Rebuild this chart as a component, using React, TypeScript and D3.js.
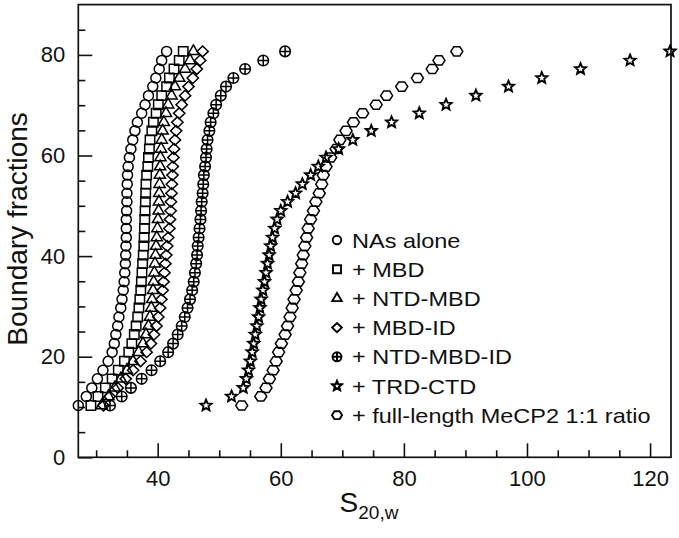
import { useEffect, useRef } from "react";
import * as d3 from "d3";

// boundary fractions (%) shared by every run
const fractions = [
  10.3, 12.1, 13.8, 15.6, 17.3, 19.1, 20.9, 22.6, 24.4, 26.1, 27.9, 29.7, 31.4,
  33.2, 34.9, 36.7, 38.5, 40.2, 42.0, 43.7, 45.5, 47.3, 49.0, 50.8, 52.5, 54.3,
  56.1, 57.8, 59.6, 61.3, 63.1, 64.9, 66.6, 68.4, 70.1, 71.9, 73.7, 75.4, 77.2,
  78.9, 80.7,
];

// s20,w for each boundary fraction
const nasAlone = [
  27.1, 28.4, 29.3, 30.2, 31.1, 31.95, 32.6, 32.95, 33.2, 33.5, 33.7, 34.0, 34.2,
  34.4, 34.55, 34.65, 34.75, 34.8, 34.85, 34.9, 34.9, 34.9, 34.95, 35.0, 35.0,
  35.05, 35.1, 35.2, 35.4, 35.65, 35.95, 36.3, 36.7, 37.4, 37.95, 38.5, 39.2,
  39.7, 40.25, 40.65, 41.45,
];
const mbd = [
  29.15, 30.3, 31.5, 32.6, 33.6, 34.6, 35.3, 35.8, 36.2, 36.5, 36.75, 36.95,
  37.1, 37.25, 37.35, 37.45, 37.55, 37.65, 37.75, 37.8, 37.85, 37.9, 37.95, 38.0,
  38.05, 38.1, 38.2, 38.4, 38.5, 38.65, 38.75, 39.05, 39.3, 39.75, 40.1, 40.65,
  41.45, 41.9, 42.65, 43.5, 44.15,
];
const ntdMbd = [
  30.9, 32.0, 33.0, 34.0, 35.0, 36.0, 36.9, 37.6, 38.1, 38.5, 38.75, 38.95, 39.1,
  39.25, 39.35, 39.45, 39.55, 39.65, 39.75, 39.85, 39.95, 40.05, 40.15, 40.2,
  40.25, 40.3, 40.35, 40.4, 40.45, 40.55, 40.65, 40.8, 41.0, 41.35, 41.7, 42.25,
  42.8, 43.5, 44.45, 45.25, 45.8,
];
const mbdId = [
  31.2, 32.2, 33.5, 34.8, 36.0, 37.2, 38.2, 38.9, 39.4, 39.8, 40.1, 40.4, 40.6,
  40.8, 40.95, 41.1, 41.25, 41.4, 41.55, 41.7, 41.9, 42.0, 42.1, 42.15, 42.25,
  42.3, 42.4, 42.45, 42.55, 42.65, 42.8, 43.0, 43.2, 43.5, 43.9, 44.45, 45.0,
  45.7, 46.35, 46.9, 47.3,
];
const ntdMbdId = [
  32.25, 34.15, 35.65, 37.4, 39.0, 40.4, 41.7, 42.5, 43.25, 43.9, 44.4, 44.85,
  45.25, 45.6, 45.85, 46.05, 46.25, 46.4, 46.5, 46.65, 46.8, 46.95, 47.05, 47.15,
  47.3, 47.4, 47.5, 47.7, 47.85, 47.95, 48.1, 48.4, 48.6, 49.05, 49.5, 50.25,
  51.1, 52.3, 54.2, 57.15, 60.7,
];
const trdCtd = [
  47.85, 52.0, 53.9, 54.4, 54.75, 55.05, 55.35, 55.6, 55.85, 56.1, 56.4, 56.6,
  56.8, 57.1, 57.35, 57.6, 57.85, 58.1, 58.35, 58.65, 59.0, 59.4, 60.0, 61.1,
  62.4, 63.5, 64.85, 66.1, 67.35, 69.4, 71.7, 74.7, 78.0, 82.5, 86.85, 91.7,
  97.0, 102.4, 108.7, 116.75, 123.25,
];
const fullLength = [
  53.65, 56.75, 57.6, 58.15, 58.75, 59.25, 59.65, 60.1, 60.7, 61.1, 61.5, 61.85,
  62.15, 62.5, 62.85, 63.1, 63.4, 63.65, 63.9, 64.2, 64.45, 64.85, 65.3, 65.7,
  66.25, 66.65, 66.9, 67.35, 68.1, 69.0, 69.6, 70.6, 71.8, 73.3, 75.5, 77.2,
  79.65, 82.2, 84.6, 85.7, 88.6,
];

const seriesNames = [
  "NAs alone",
  "+ MBD",
  "+ NTD-MBD",
  "+ MBD-ID",
  "+ NTD-MBD-ID",
  "+ TRD-CTD",
  "+ full-length MeCP2 1:1 ratio",
];
const seriesShapes = ["circle", "square", "triangle", "diamond", "crossed", "star", "hexagon"];
const seriesValues = [nasAlone, mbd, ntdMbd, mbdId, ntdMbdId, trdCtd, fullLength];

const xMajor = [40, 60, 80, 100, 120];
const xMinor = [30, 35, 45, 50, 55, 65, 70, 75, 85, 90, 95, 105, 110, 115];
const yMajor = [0, 20, 40, 60, 80];
const yMinor = [5, 10, 15, 25, 30, 35, 45, 50, 55, 65, 70, 75, 85];

const FONT = "'Liberation Sans', Arial, Helvetica, sans-serif";

function markerPath(shape: string, k: number): string {
  const circ = (r: number) =>
    `M${r},0A${r},${r} 0 1,1 ${-r},0A${r},${r} 0 1,1 ${r},0Z`;
  if (shape === "circle") return circ(5 * k);
  if (shape === "square") {
    const s = 4.7 * k;
    return `M${-s},${-s}H${s}V${s}H${-s}Z`;
  }
  if (shape === "triangle") {
    const a = 11.2 * k;
    const h = (a * Math.sqrt(3)) / 2;
    return `M0,${(-2 * h) / 3}L${a / 2},${h / 3}L${-a / 2},${h / 3}Z`;
  }
  if (shape === "diamond") {
    const r = 5.4 * k;
    return `M0,${-r}L${r * 1.05},0L0,${r}L${-r * 1.05},0Z`;
  }
  if (shape === "crossed") {
    const r = 5.3 * k;
    return `${circ(r)}M${-r},0H${r}M0,${-r}V${r}`;
  }
  if (shape === "star") {
    const R = 5.8 * k;
    const ri = R * 0.45;
    const pts: string[] = [];
    for (let i = 0; i < 10; i++) {
      const rad = i % 2 === 0 ? R : ri;
      const ang = -Math.PI / 2 + (i * Math.PI) / 5;
      pts.push(`${(rad * Math.cos(ang)).toFixed(2)},${(rad * Math.sin(ang)).toFixed(2)}`);
    }
    return `M${pts.join("L")}Z`;
  }
  // hexagon, pointy left/right
  const R = 6 * k;
  const pts: string[] = [];
  for (let i = 0; i < 6; i++) {
    const ang = (i * Math.PI) / 3;
    pts.push(`${(R * Math.cos(ang)).toFixed(2)},${(R * 0.88 * Math.sin(ang)).toFixed(2)}`);
  }
  return `M${pts.join("L")}Z`;
}

const W = 679;
const H = 538;

export default function App() {
  const svgRef = useRef<SVGSVGElement | null>(null);

  useEffect(() => {
    const svg = svgRef.current;
    if (!svg) return;
    svg.innerHTML = "";

    const left = 78.3;
    const right = 671;
    const top = 4.6;
    const bottom = 457.3;

    const x = d3.scaleLinear().domain([27.1, 123.4]).range([left, right]);
    const y = d3.scaleLinear().domain([0, 90]).range([bottom, top]);

    const root = d3.select(svg).attr("width", W).attr("height", H);

    // minor ticks
    root
      .append("g")
      .attr("transform", `translate(0,${bottom})`)
      .call(d3.axisBottom(x).tickValues(xMinor).tickSizeInner(-7).tickSizeOuter(0).tickFormat(() => ""))
      .call((g) => g.select(".domain").remove());
    root
      .append("g")
      .attr("transform", `translate(${left},0)`)
      .call(d3.axisLeft(y).tickValues(yMinor).tickSizeInner(-7).tickSizeOuter(0).tickFormat(() => ""))
      .call((g) => g.select(".domain").remove());

    // major ticks + labels
    const xAxis = root
      .append("g")
      .attr("transform", `translate(0,${bottom})`)
      .call(
        d3.axisBottom(x).tickValues(xMajor).tickSizeInner(-14).tickSizeOuter(0).tickPadding(13).tickFormat(d3.format("d"))
      );
    xAxis.select(".domain").remove();
    const yAxis = root
      .append("g")
      .attr("transform", `translate(${left},0)`)
      .call(
        d3.axisLeft(y).tickValues(yMajor).tickSizeInner(-14).tickSizeOuter(0).tickPadding(13).tickFormat(d3.format("d"))
      );
    yAxis.select(".domain").remove();

    root.selectAll(".tick line").attr("stroke", "#111").attr("stroke-width", 1.6);
    root
      .selectAll(".tick text")
      .attr("font-family", FONT)
      .attr("font-size", 22)
      .attr("fill", "#111");

    // frame
    root
      .append("rect")
      .attr("x", left)
      .attr("y", top)
      .attr("width", right - left)
      .attr("height", bottom - top)
      .attr("fill", "none")
      .attr("stroke", "#111")
      .attr("stroke-width", 1.7);

    // data markers
    seriesValues.forEach((vals, si) => {
      const pts = vals.map((v, i) => ({ sx: v, bf: fractions[i] }));
      root
        .append("g")
        .selectAll("path")
        .data(pts)
        .join("path")
        .attr("transform", (d) => `translate(${x(d.sx)},${y(d.bf)})`)
        .attr("d", markerPath(seriesShapes[si], 1))
        .attr("fill", "none")
        .attr("stroke", "#000")
        .attr("stroke-width", seriesShapes[si] === "star" ? 1.9 : 1.5)
        .attr("stroke-linejoin", "miter");
    });

    // legend
    const lg = root.append("g").attr("transform", "translate(337,240)");
    const rows = lg
      .selectAll("g")
      .data(seriesNames)
      .join("g")
      .attr("transform", (_, i) => `translate(0,${i * 29.2})`);
    rows
      .append("path")
      .attr("d", (_, i) => markerPath(seriesShapes[i], 0.85))
      .attr("fill", "none")
      .attr("stroke", "#000")
      .attr("stroke-width", (_, i) => (seriesShapes[i] === "star" ? 2.2 : 1.9));
    rows
      .append("text")
      .attr("transform", "translate(15,0) scale(1.12,1)")
      .attr("dy", "0.36em")
      .attr("font-family", FONT)
      .attr("font-size", 21)
      .attr("fill", "#111")
      .text((d) => d);

    // axis titles
    root
      .append("text")
      .attr("transform", `translate(27,${(top + bottom) / 2 - 2}) rotate(-90)`)
      .attr("text-anchor", "middle")
      .attr("font-family", FONT)
      .attr("font-size", 28)
      .attr("fill", "#111")
      .text("Boundary fractions");

    const xt = root
      .append("text")
      .attr("x", 369)
      .attr("y", 512)
      .attr("text-anchor", "middle")
      .attr("font-family", FONT)
      .attr("fill", "#111");
    xt.append("tspan").attr("font-size", 28).text("S");
    xt.append("tspan").attr("font-size", 19).attr("dy", 7).text("20,w");
  }, []);

  return (
    <svg
      ref={svgRef}
      width={W}
      height={H}
      style={{ position: "absolute", left: 0, top: 0, background: "#fff" }}
    />
  );
}
